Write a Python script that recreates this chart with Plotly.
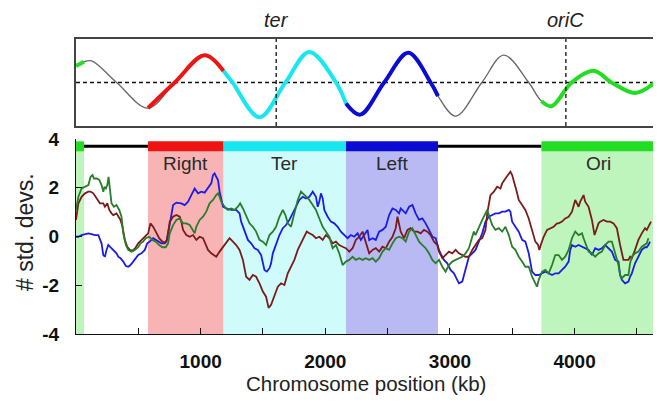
import plotly.graph_objects as go

# ---------------- data ----------------
GENOME_KB = 4645
TER_KB = 1606
ORIC_KB = 3930

region_names = ["Right", "Ter", "Left", "Ori"]
region_start = [578, 1184, 2166, 3734]
region_end = [1184, 2166, 2904, 4645]
region_fill = ["#f8b4b4", "#cffbfb", "#b9b9f4", "#bdf5bd"]
region_bar = ["#ee1414", "#1ae6f0", "#0b0bd2", "#22dd22"]
ori_wrap_end = 64  # Ori region wraps around to the start of the chromosome

bar_y = 3.7
label_y = 3.0

# top panel: schematic wave (extrema and crossings)
wave_kb = [0, 64, 126, 326, 578, 792, 1032, 1184, 1256, 1472, 1680, 1872, 2086, 2166,
           2280, 2472, 2666, 2845, 2904, 3046, 3256, 3432, 3632, 3734, 3816, 3976, 4152,
           4296, 4486, 4645]
wave_y = [0.55, 0.69, 0.72, 0.0, -0.85, 0.0, 0.91, 0.38, 0.0, -1.16, 0.0, 1.02, 0.0, -0.7,
          -1.07, 0.0, 0.99, 0.0, -0.45, -1.12, 0.0, 0.91, 0.0, -0.62, -0.79, 0.0, 0.39,
          0.0, -0.35, 0.0]

# bottom panel series (kb, std. devs.)
green_kb = [0, 19, 45, 72, 99, 117, 133, 144, 165, 187, 205, 219, 229, 240, 251, 261, 272, 285, 304, 325,
            347, 365, 379, 400, 419, 445, 472, 499, 517, 539, 560, 587, 613, 640, 667, 693, 720, 739,
            752, 779, 805, 832, 859, 885, 912, 939, 952, 965, 992, 1019, 1045, 1072, 1099, 1125, 1139, 1152,
            1165, 1192, 1219, 1245, 1272, 1299, 1317, 1339, 1365, 1392, 1419, 1445, 1472, 1499, 1525,
            1552, 1579, 1605, 1632, 1659, 1680, 1699, 1725, 1752, 1779, 1805, 1819, 1845, 1872, 1899, 1925,
            1952, 1979, 2005, 2032, 2059, 2085, 2112, 2139, 2165, 2192, 2219, 2245, 2272, 2299, 2325,
            2352, 2379, 2405, 2432, 2459, 2485, 2512, 2539, 2565, 2592, 2619, 2645, 2672, 2699, 2725, 2752,
            2779, 2805, 2832, 2859, 2885, 2912, 2939, 2965, 2992, 3019, 3045, 3072, 3099, 3125,
            3152, 3179, 3192, 3205, 3232, 3259, 3285, 3299, 3312, 3325, 3339, 3365, 3392, 3419, 3445, 3472,
            3499, 3525, 3552, 3579, 3605, 3632, 3659, 3685, 3699, 3712, 3739, 3765, 3792, 3819, 3845,
            3872, 3899, 3925, 3952, 3979, 4005, 4032, 4059, 4072, 4085, 4112, 4139, 4165, 4192, 4219, 4245,
            4272, 4299, 4325, 4352, 4365, 4379, 4405, 4432, 4445, 4459, 4485, 4512, 4539, 4565, 4579, 4592]
green_sd = [1.09, 1.63, 1.97, 2.04, 2.11, 2.45, 2.52, 2.38, 2.38, 2.32, 2.11, 1.84, 2.04, 1.97, 2.11, 2.45, 1.91, 1.36, 1.22, 1.29,
            1.09, 0.81, 0.13, -0.35, -0.55, -0.62, -0.55, -0.44, -0.28, -0.21, -0.07, -0.01, -0.14, -0.21, -0.35, -0.44, -0.44, -0.28,
            0.13, 0.47, 0.68, 0.74, 0.54, 0.54, 0.47, 0.27, 0.13, 0.40, 0.68, 0.81, 1.02, 1.36, 1.50, 1.70, 1.77, 1.63,
            1.43, 1.22, 1.09, 1.15, 1.09, 1.22, 1.36, 1.15, 0.81, 0.54, 0.40, 0.20, -0.14, -0.21, -0.35,
            0.06, 0.20, 0.40, 0.81, 1.09, 0.88, 0.54, 0.40, 0.95, 1.50, 1.84, 1.77, 1.63, 1.50, 1.29, 1.09,
            0.74, 0.40, 0.20, -0.01, -0.48, -0.35, -0.69, -1.17, -1.03, -0.96, -0.83, -0.96, -0.89, -0.96, -0.89,
            -0.96, -0.89, -1.03, -0.89, -0.62, -0.48, -0.55, -0.28, -0.07, -0.01, -0.07, -0.21, 0.20, 0.34, 0.06, -0.21,
            -0.35, -0.48, -0.69, -0.96, -1.10, -0.96, -1.24, -1.44, -1.17, -1.03, -0.96, -0.89, -0.83, -0.69,
            -0.48, -0.01, 0.20, 0.06, 0.40, 0.68, 0.95, 1.09, 0.88, 0.68, 0.47, 0.27, 0.34, 0.20, 0.40, 0.06,
            -0.42, -0.55, -0.83, -1.03, -1.24, -1.24, -1.65, -1.92, -2.06, -1.78, -1.44, -1.37, -1.51, -1.17, -0.76,
            -0.76, -0.96, -0.83, -0.55, -0.07, 0.20, 0.06, 0.13, -0.07, -0.28, -0.62, -0.69, -0.83, -0.69, -0.62, -0.35,
            -0.21, -0.21, -0.69, -1.17, -1.58, -1.71, -1.58, -1.58, -1.10, -0.83, -0.69, -0.62, -0.42, -0.35, -0.28, -0.07]

red_kb = [0, 19, 45, 72, 99, 117, 139, 165, 192, 219, 232, 251, 267, 285, 299, 325, 347, 357, 373, 392,
          411, 432, 453, 475, 499, 525, 552, 579, 597, 619, 640, 667, 693, 712, 731,
          752, 779, 805, 832, 845, 859, 885, 912, 939, 965, 992, 1019, 1032, 1059, 1085, 1125, 1152, 1179, 1205, 1232,
          1259, 1285, 1312, 1339, 1365, 1392, 1419, 1445, 1472, 1499, 1525, 1545, 1565,
          1592, 1619, 1645, 1672, 1699, 1725, 1752, 1779, 1805, 1832, 1851, 1872, 1899, 1925, 1952, 1979, 2005, 2032,
          2059, 2085, 2112, 2139, 2165, 2192, 2219, 2245, 2272, 2299, 2325,
          2352, 2379, 2405, 2432, 2459, 2485, 2512, 2539, 2565, 2579, 2592, 2605, 2632, 2659, 2685, 2712, 2739, 2765,
          2792, 2819, 2845, 2872, 2899, 2912, 2939, 2965, 2992, 3019, 3045, 3072, 3099, 3125,
          3152, 3179, 3205, 3232, 3259, 3285, 3299, 3312, 3325, 3352, 3379, 3405, 3419, 3445, 3472, 3485, 3499, 3512,
          3525, 3539, 3552, 3579, 3605, 3632, 3659, 3685, 3707, 3717, 3733, 3752, 3779, 3805, 3832, 3859,
          3872, 3899, 3925, 3952, 3979, 4005, 4019, 4032, 4045, 4059, 4072, 4085, 4112, 4139, 4160, 4179, 4192, 4205,
          4232, 4259, 4285, 4312, 4339, 4365, 4379, 4392, 4405, 4432, 4445, 4459, 4485, 4512, 4539, 4565, 4579, 4592, 4613]
red_sd = [0.68, 1.36, 1.63, 1.77, 1.84, 1.84, 1.77, 1.56, 1.36, 1.36, 1.22, 1.36, 1.09, 0.95, 0.88, 0.95, 0.74, 0.68, 0.40, -0.14,
          -0.42, -0.55, -0.58, -0.48, -0.28, -0.14, -0.01, 0.13, 0.54, 0.40, 0.20, -0.07, -0.21, -0.25, -0.14,
          0.61, 0.81, 0.88, 0.81, 0.61, 0.27, 0.06, -0.01, 0.06, -0.14, -0.01, -0.07, -0.21, -0.55, -0.69, -0.83, -0.62, -0.42, -0.28, -0.07,
          -0.21, -0.35, -0.55, -0.96, -1.65, -1.78, -1.58, -1.65, -1.92, -2.26, -2.47, -2.93, -2.80,
          -2.47, -2.06, -1.92, -1.99, -1.51, -1.24, -0.96, -0.55, -0.28, -0.01, 0.20, 0.13, 0.06, -0.07, -0.01, -0.14, 0.06, -0.07,
          -0.28, -0.21, -0.35, -0.42, -0.48, -0.62, -0.48, -0.14, -0.01, 0.20, -0.21,
          -0.69, -0.55, -0.48, -0.62, -0.42, -0.48, -0.21, -0.01, 0.34, 0.81, 0.54, 0.20, -0.07, 0.27, 0.34, 0.20, 0.20, 0.13,
          0.27, 0.20, 0.06, -0.21, -0.35, -0.62, -0.89, -0.76, -0.62, -0.69, -0.55, -0.69, -0.76, -0.83,
          -0.83, -0.55, -0.35, -0.14, -0.07, 0.27, 0.95, 1.36, 1.70, 1.84, 2.04, 1.97, 2.18, 2.38, 2.59, 2.66, 2.52, 2.32,
          2.04, 1.77, 1.50, 1.29, 1.09, 0.74, 0.27, -0.21, -0.35, -0.55, -0.28, -0.01, 0.27, 0.34, 0.40, 0.54,
          0.54, 0.61, 0.74, 0.81, 1.02, 1.50, 1.36, 1.22, 1.43, 1.56, 1.70, 1.43, 1.22, 0.68, 0.06, 0.34, 0.54, 0.61,
          0.68, 0.61, 0.61, 0.54, 0.34, -0.35, -0.69, -0.96, -0.96, -0.96, -0.83, -0.89, -0.55, -0.14, 0.13, 0.34, 0.27, 0.40, 0.61]

blue_kb = [0, 19, 45, 72, 99, 125, 152, 179, 197, 205, 219, 232, 245, 259, 272, 299, 325, 339, 357, 379,
           400, 419, 437, 459, 480, 499, 525, 552, 571, 592, 619, 640, 661, 685, 712, 725,
           752, 770, 779, 805, 845, 872, 899, 925, 939, 952, 979, 1005, 1032, 1059, 1085, 1099, 1112, 1125, 1139, 1152,
           1165, 1179, 1205, 1245, 1285, 1312, 1325, 1352, 1379, 1405, 1432, 1459, 1485, 1512, 1531,
           1552, 1565, 1579, 1605, 1632, 1659, 1685, 1712, 1739, 1765, 1792, 1819, 1845, 1872, 1899, 1925, 1939, 1952,
           1965, 1979, 1992, 2019, 2045, 2072, 2099, 2125, 2152, 2179, 2205, 2232, 2259, 2285, 2312, 2339,
           2352, 2379, 2405, 2432, 2459, 2485, 2512, 2539, 2565, 2592, 2605, 2619, 2645, 2672, 2699, 2725, 2752, 2779,
           2805, 2832, 2859, 2885, 2899, 2912, 2925, 2952, 2979, 3005, 3032, 3045, 3072, 3099, 3125,
           3152, 3179, 3205, 3232, 3259, 3285, 3312, 3339, 3365, 3392, 3419, 3445, 3472, 3485, 3499, 3525, 3552, 3579,
           3605, 3632, 3645, 3659, 3685, 3712, 3739, 3765, 3792, 3819, 3845,
           3872, 3899, 3925, 3952, 3965, 3979, 4005, 4032, 4059, 4085, 4112, 4139, 4165, 4192, 4219, 4245, 4272, 4299,
           4325, 4352, 4365, 4379, 4405, 4432, 4445, 4459, 4485, 4512, 4539, 4565, 4579, 4592, 4605]
blue_sd = [-0.01, -0.01, 0.06, 0.10, 0.13, 0.10, 0.06, 0.06, -0.14, -0.28, -0.76, -0.83, -0.55, -0.35, -0.42, -0.55, -0.69, -0.83, -0.89, -1.03,
           -1.21, -1.24, -1.17, -1.03, -0.89, -0.76, -0.69, -0.55, -0.28, -0.21, -0.07, -0.14, -0.21, -0.28, -0.28, -0.21,
           0.50, 1.10, 1.29, 1.39, 1.36, 1.29, 1.43, 1.70, 1.84, 1.97, 1.77, 1.84, 1.80, 1.97, 2.18, 2.52, 2.59, 2.45, 2.32, 1.84,
           1.56, 1.22, 1.15, 1.09, 1.09, 0.95, 0.61, 0.27, -0.14, -0.28, -0.48, -0.55, -0.76, -1.37, -1.44,
           -1.30, -1.10, -0.69, -0.28, 0.06, 0.34, 0.47, 0.68, 0.95, 1.22, 1.50, 1.63, 1.56, 1.63, 1.84, 1.63, 1.22, 1.43,
           1.77, 1.56, 1.09, 0.81, 0.61, 0.54, 0.40, 0.20, 0.06, -0.07, 0.06, -0.01, 0.13, -0.14, 0.06, 0.27,
           -0.15, -0.07, -0.14, 0.20, 0.27, 0.40, 0.88, 1.15, 1.09, 0.95, 1.15, 1.09, 0.95, 1.22, 1.29, 0.95, 0.68, 0.74,
           0.54, 0.27, -0.01, -0.07, -0.35, -0.55, -0.69, -0.96, -1.10, -1.37, -1.51, -1.65, -1.92, -1.85, -1.37,
           -0.83, -0.69, -0.55, -0.21, 0.13, 0.61, 0.81, 0.88, 0.95, 0.95, 1.02, 1.02, 1.09, 1.02, 0.61, 0.40, 0.20, -0.14,
           -0.21, -0.69, -1.10, -1.44, -1.58, -1.58, -1.51, -1.44, -1.51, -1.58, -1.51,
           -1.51, -1.37, -1.24, -1.03, -0.55, -0.35, -0.42, -0.35, -0.42, -0.48, -0.55, -0.76, -0.48, -0.55, -0.48, -0.35, -0.48, -0.62,
           -0.96, -1.03, -1.58, -1.78, -1.92, -1.85, -1.65, -1.51, -1.10, -0.83, -0.55, -0.44, -0.44, -0.35, -0.21]

x_tick_vals = [500, 1000, 1500, 2000, 2500, 3000, 3500, 4000, 4500]
x_tick_text = ["", "1000", "", "2000", "", "3000", "", "4000", ""]
y_tick_vals = [-4, -2, 0, 2, 4]
y_tick_text = ["-4", "-2", "0", "2", "4"]

# ---------------- figure ----------------
FONT = "Liberation Sans, Arial, sans-serif"
fig = go.Figure()

# top panel wave: thin grey base, coloured thick segments on top
fig.add_trace(go.Scatter(x=wave_kb, y=wave_y, mode="lines", xaxis="x", yaxis="y",
                         line=dict(color="#666666", width=1.3, shape="spline", smoothing=1.0),
                         hoverinfo="skip"))


def wave_segment(k0, k1):
    i0 = wave_kb.index(k0)
    i1 = wave_kb.index(k1)
    return wave_kb[i0:i1 + 1], wave_y[i0:i1 + 1]


seg_defs = [(0, ori_wrap_end, region_bar[3])]
for s, e, c in zip(region_start, region_end, region_bar):
    seg_defs.append((s, e, c))
for s, e, c in seg_defs:
    sx, sy = wave_segment(s, e)
    fig.add_trace(go.Scatter(x=sx, y=sy, mode="lines", xaxis="x", yaxis="y",
                             line=dict(color=c, width=4, shape="spline", smoothing=1.0),
                             hoverinfo="skip"))

# region shading in bottom panel
shapes = []
shapes.append(dict(type="rect", xref="x2", yref="y2", x0=0, x1=ori_wrap_end, y0=-4, y1=bar_y,
                   fillcolor=region_fill[3], line=dict(width=0), layer="below"))
for s, e, f in zip(region_start, region_end, region_fill):
    shapes.append(dict(type="rect", xref="x2", yref="y2", x0=s, x1=e, y0=-4, y1=bar_y,
                       fillcolor=f, line=dict(width=0), layer="below"))

# dashed guides in top panel
for xv in [TER_KB, ORIC_KB]:
    shapes.append(dict(type="line", xref="x", yref="y", x0=xv, x1=xv, y0=-1.45, y1=1.45,
                       line=dict(color="#111", width=1.3, dash="4px,3px")))
shapes.append(dict(type="line", xref="x", yref="y", x0=0, x1=GENOME_KB, y0=0, y1=0,
                   line=dict(color="#111", width=1.3, dash="4px,3px"), layer="below"))

# region bar across the top of the bottom panel
gaps = [(ori_wrap_end, region_start[0]), (region_end[2], region_start[3])]
for s, e in gaps:
    fig.add_trace(go.Scatter(x=[s, e], y=[bar_y, bar_y], mode="lines", xaxis="x2", yaxis="y2",
                             line=dict(color="black", width=3), hoverinfo="skip"))
for s, e, c in [(0, ori_wrap_end, region_bar[3])] + list(zip(region_start, region_end, region_bar)):
    fig.add_trace(go.Scatter(x=[s, e], y=[bar_y, bar_y], mode="lines", xaxis="x2", yaxis="y2",
                             line=dict(color=c, width=10), hoverinfo="skip"))

# data series
for xs, ys, col in [(blue_kb, blue_sd, "#1c1ce6"), (red_kb, red_sd, "#7a1c1c"), (green_kb, green_sd, "#2a7d2a")]:
    fig.add_trace(go.Scatter(x=xs, y=ys, mode="lines", xaxis="x2", yaxis="y2",
                             line=dict(color=col, width=1.8), hoverinfo="skip"))

annotations = []
for n, s, e in zip(region_names, region_start, region_end):
    annotations.append(dict(x=(s + e) / 2, y=label_y, xref="x2", yref="y2", text=n, showarrow=False,
                            xanchor="center", yanchor="middle",
                            font=dict(family=FONT, size=19, color="#2a2a2a")))
for xv, t in [(TER_KB, "<i>ter</i>"), (ORIC_KB, "<i>oriC</i>")]:
    annotations.append(dict(x=xv, y=1.063, xref="x", yref="paper", text=t, showarrow=False,
                            xanchor="center", yanchor="middle",
                            font=dict(family=FONT, size=20, color="#222")))
annotations.append(dict(x=-0.088, y=0.346, xref="paper", yref="paper", text="# std. devs.", textangle=-90,
                        showarrow=False, xanchor="center", yanchor="middle",
                        font=dict(family=FONT, size=23, color="#222")))
annotations.append(dict(x=0.501, y=-0.169, xref="paper", yref="paper", text="Chromosome position (kb)",
                        showarrow=False, xanchor="center", yanchor="middle",
                        font=dict(family=FONT, size=20.5, color="#222")))

# page body adds an 8px offset; figure sized so the plot lands where the reference has it
fig.update_layout(
    width=653, height=396,
    margin=dict(l=68, r=4, t=31, b=70),
    paper_bgcolor="white", plot_bgcolor="white",
    showlegend=False,
    font=dict(family=FONT, color="#111"),
    shapes=shapes,
    annotations=annotations,
    xaxis=dict(domain=[0, 1], anchor="y", range=[0, GENOME_KB], showticklabels=False, ticks="",
               showline=True, mirror=True, linecolor="#444", linewidth=1.5, showgrid=False, zeroline=False),
    yaxis=dict(domain=[0.705, 1], anchor="x", range=[-1.45, 1.45], showticklabels=False, ticks="",
               showline=True, mirror=True, linecolor="#444", linewidth=1.5, showgrid=False, zeroline=False),
    xaxis2=dict(domain=[0, 1], anchor="y2", range=[0, GENOME_KB], showline=True, linecolor="#111",
                linewidth=1.3, ticks="inside", ticklen=6, tickcolor="#111", tickvals=x_tick_vals,
                ticktext=["<b>%s</b>" % t if t else "" for t in x_tick_text],
                tickfont=dict(family=FONT, size=19, color="#111"), ticklabelstandoff=10,
                showgrid=False, zeroline=False),
    yaxis2=dict(domain=[0, 0.661], anchor="x2", range=[-4, 4], showline=True, linecolor="#111",
                linewidth=1.3, ticks="inside", ticklen=6, tickcolor="#111", tickvals=y_tick_vals,
                ticktext=["<b>%s</b>" % t for t in y_tick_text],
                tickfont=dict(family=FONT, size=19, color="#111"), ticklabelstandoff=12,
                showgrid=False, zeroline=False),
)

fig.write_html("out.html")
